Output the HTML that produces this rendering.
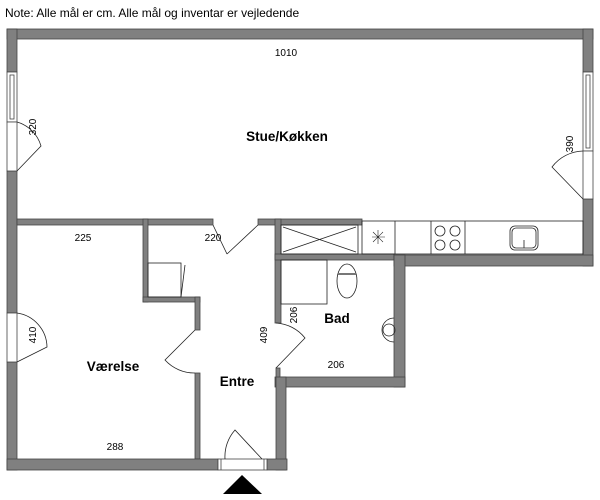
<!DOCTYPE html>
<html><head><meta charset="utf-8"><style>
html,body{margin:0;padding:0;background:#fff;}
svg{display:block;font-family:"Liberation Sans",sans-serif;}
</style></head><body>
<svg width="600" height="500" viewBox="0 0 600 500" xmlns="http://www.w3.org/2000/svg">
<text x="5" y="17" font-size="12" fill="#000">Note: Alle mål er cm. Alle mål og inventar er vejledende</text>
<g fill="#808080" stroke="#444" stroke-width="0.8">
<rect x="7" y="29" width="586" height="10"/>
<rect x="7" y="29" width="10" height="43"/>
<rect x="7" y="171" width="10" height="142"/>
<rect x="7" y="362" width="10" height="108"/>
<rect x="583" y="29" width="10" height="43"/>
<rect x="583" y="199" width="10" height="67"/>
<rect x="394" y="255" width="199" height="11"/>
<rect x="17" y="219" width="196" height="6"/>
<rect x="258" y="219" width="104" height="6"/>
<rect x="143" y="219" width="5" height="83"/>
<rect x="143" y="297" width="57" height="5"/>
<rect x="195" y="297" width="5" height="33"/>
<rect x="195" y="373" width="5" height="86"/>
<rect x="275" y="219" width="6" height="104"/>
<rect x="275" y="254" width="119" height="6"/>
<rect x="394" y="255" width="11" height="132"/>
<rect x="275" y="377" width="130" height="10"/>
<rect x="276" y="368" width="4" height="19"/>
<rect x="276" y="377" width="10" height="93"/>
<rect x="7" y="459" width="211" height="11"/>
<rect x="267" y="459" width="20" height="11"/>
</g>
<g fill="#fff" stroke="#444" stroke-width="0.8">
<rect x="7" y="72" width="10" height="50"/><rect x="10" y="75" width="4" height="44"/>
<rect x="583" y="72" width="10" height="79"/><rect x="586" y="75" width="4" height="73"/>
<rect x="7" y="122" width="10" height="49"/>
<rect x="7" y="313" width="10" height="49"/>
<rect x="583" y="151" width="10" height="48"/>
<rect x="218" y="459" width="49" height="11"/>
<line x1="221" y1="459" x2="221" y2="470"/><line x1="264" y1="459" x2="264" y2="470"/>
</g>
<g fill="none" stroke="#222" stroke-width="0.8">
<path d="M17 171 L41 146 A35 35 0 0 0 17 122"/>
<path d="M17 362 L47 347 A35 35 0 0 0 17 313"/>
<path d="M583 199 L552 167 A40 40 0 0 1 583 151"/>
<path d="M213 225 L227 254 M258 225 L227 254"/>
<path d="M195 330 L165 360 A40 40 0 0 0 195 373"/>
<path d="M276 368 L305 338 A40 40 0 0 0 276 323"/>
<path d="M225 459 A40 40 0 0 1 235 430 L262 459"/>
<rect x="148" y="263" width="33" height="34"/>
<line x1="185" y1="265" x2="181" y2="297"/>
<rect x="281" y="225" width="77" height="29"/>
<line x1="283" y1="227" x2="356" y2="252"/><line x1="356" y1="227" x2="283" y2="252"/>
<rect x="362" y="221" width="221" height="33"/>
<line x1="395" y1="221" x2="395" y2="254"/><line x1="431" y1="221" x2="431" y2="254"/><line x1="465" y1="221" x2="465" y2="254"/>
<circle cx="440" cy="231" r="5"/><circle cx="455" cy="231" r="5"/><circle cx="440" cy="245" r="5"/><circle cx="455" cy="245" r="5"/>
<rect x="510" y="226" width="28" height="24" rx="5"/><rect x="512" y="228" width="24" height="20" rx="4"/>
<line x1="524" y1="240" x2="524" y2="248"/>
<path d="M372 237 H385 M378 230 V244 M373 232 L383 242 M383 232 L373 242" stroke-width="0.6"/>
<rect x="281" y="260" width="46" height="44"/>
<ellipse cx="347" cy="281" rx="10" ry="17"/>
<line x1="338" y1="274" x2="356" y2="274" stroke-width="2" stroke="#777"/>
<path d="M394 318 A12 12 0 0 0 394 342"/>
<circle cx="389" cy="330" r="6"/>
</g>
<polygon points="223,494 242,475 262,494" fill="#000"/>
<g font-size="10" fill="#000">
<text x="286" y="56" text-anchor="middle">1010</text>
<text x="83" y="241" text-anchor="middle">225</text>
<text x="213" y="241" text-anchor="middle">220</text>
<text x="115" y="450" text-anchor="middle">288</text>
<text x="336" y="368" text-anchor="middle">206</text>
<text transform="translate(36,127) rotate(-90)" text-anchor="middle">320</text>
<text transform="translate(573,144) rotate(-90)" text-anchor="middle">390</text>
<text transform="translate(36,335) rotate(-90)" text-anchor="middle">410</text>
<text transform="translate(267,335) rotate(-90)" text-anchor="middle">409</text>
<text transform="translate(297,315) rotate(-90)" text-anchor="middle">206</text>
</g>
<g font-size="13.5" font-weight="bold" fill="#000" text-anchor="middle">
<text x="287" y="141">Stue/Køkken</text>
<text x="113" y="371">Værelse</text>
<text x="237" y="386">Entre</text>
<text x="337" y="323">Bad</text>
</g>
</svg>
</body></html>
